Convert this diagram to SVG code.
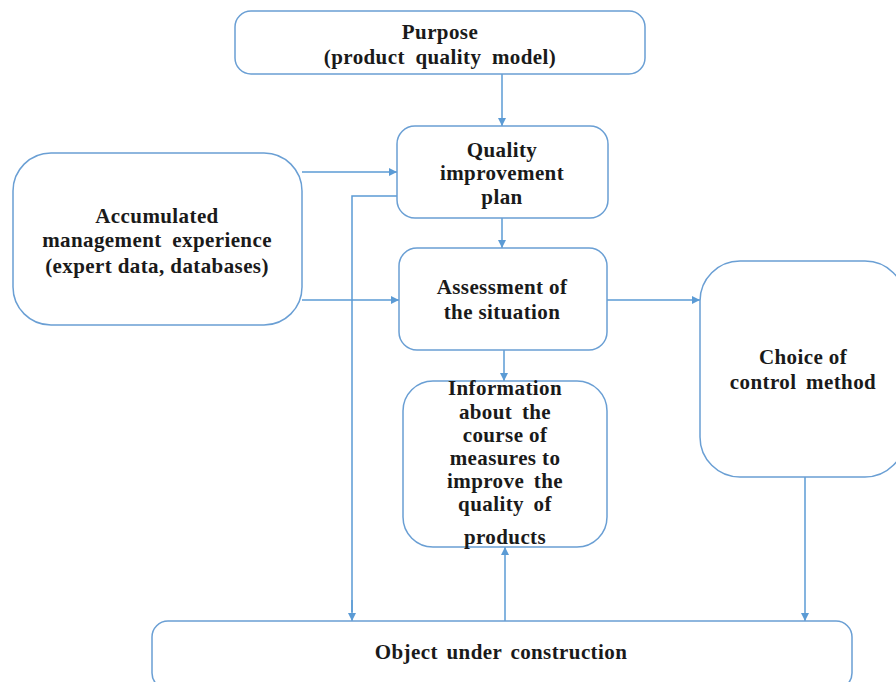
<svg xmlns="http://www.w3.org/2000/svg" width="896" height="682" viewBox="0 0 896 682">
<defs>
<marker id="ah" viewBox="0 0 10 10" refX="10" refY="5" markerWidth="8" markerHeight="8" markerUnits="userSpaceOnUse" orient="auto">
<path d="M0,0 L10,5 L0,10 z" fill="#5b9bd5"/>
</marker>
<style>
.box{fill:#ffffff;stroke:#6a9fd4;stroke-width:1.5}
.ln{fill:none;stroke:#5b9bd5;stroke-width:1.5;marker-end:url(#ah)}
.ln0{fill:none;stroke:#5b9bd5;stroke-width:1.5}
text{font-family:"Liberation Serif","Times New Roman",serif;font-weight:bold;font-size:21px;letter-spacing:0.4px;fill:#1a1a1a;text-anchor:middle}
</style>
</defs>
<rect width="896" height="682" fill="#ffffff"/>
<g id="connectors">
<path class="ln" d="M502,74 V126"/>
<path class="ln" d="M302,172 H397"/>
<path class="ln" d="M302,300 H399"/>
<path class="ln0" d="M397,196 H352 V612"/>
<path class="ln" d="M352,600 V621"/>
<path class="ln" d="M502,218 V248"/>
<path class="ln" d="M504,350 V381"/>
<path class="ln" d="M607,300 H700"/>
<path class="ln" d="M805,477 V621"/>
<path class="ln" d="M505,621 V547"/>
</g>
<g id="purpose">
<rect class="box" x="235" y="11" width="410" height="63" rx="16"/>
<text x="440" y="39">Purpose</text>
<text x="440" y="64" word-spacing="5">(product quality model)</text>
</g>
<g id="quality">
<rect class="box" x="397" y="126" width="211" height="92" rx="18"/>
<text x="502" y="157">Quality</text>
<text x="502" y="180">improvement</text>
<text x="502" y="204">plan</text>
</g>
<g id="accumulated">
<rect class="box" x="13" y="153" width="289" height="172" rx="38"/>
<text x="157" y="223">Accumulated</text>
<text x="157" y="247" word-spacing="5">management experience</text>
<text x="157" y="273">(expert data, databases)</text>
</g>
<g id="assessment">
<rect class="box" x="399" y="248" width="208" height="102" rx="18"/>
<text x="502" y="294">Assessment of</text>
<text x="502" y="319">the situation</text>
</g>
<g id="choice">
<rect class="box" x="700" y="261" width="205" height="216" rx="40"/>
<text x="803" y="364">Choice of</text>
<text x="803" y="389" word-spacing="4">control method</text>
</g>
<g id="information">
<rect class="box" x="403" y="381" width="204" height="166" rx="30"/>
<text x="505" y="395">Information</text>
<text x="505" y="419" word-spacing="4">about the</text>
<text x="505" y="442">course of</text>
<text x="505" y="465">measures to</text>
<text x="505" y="488" word-spacing="4">improve the</text>
<text x="505" y="511" word-spacing="4">quality of</text>
<text x="505" y="544">products</text>
</g>
<g id="object">
<rect class="box" x="152" y="621" width="700" height="68" rx="16"/>
<text x="501" y="659" word-spacing="3">Object under construction</text>
</g>
</svg>
